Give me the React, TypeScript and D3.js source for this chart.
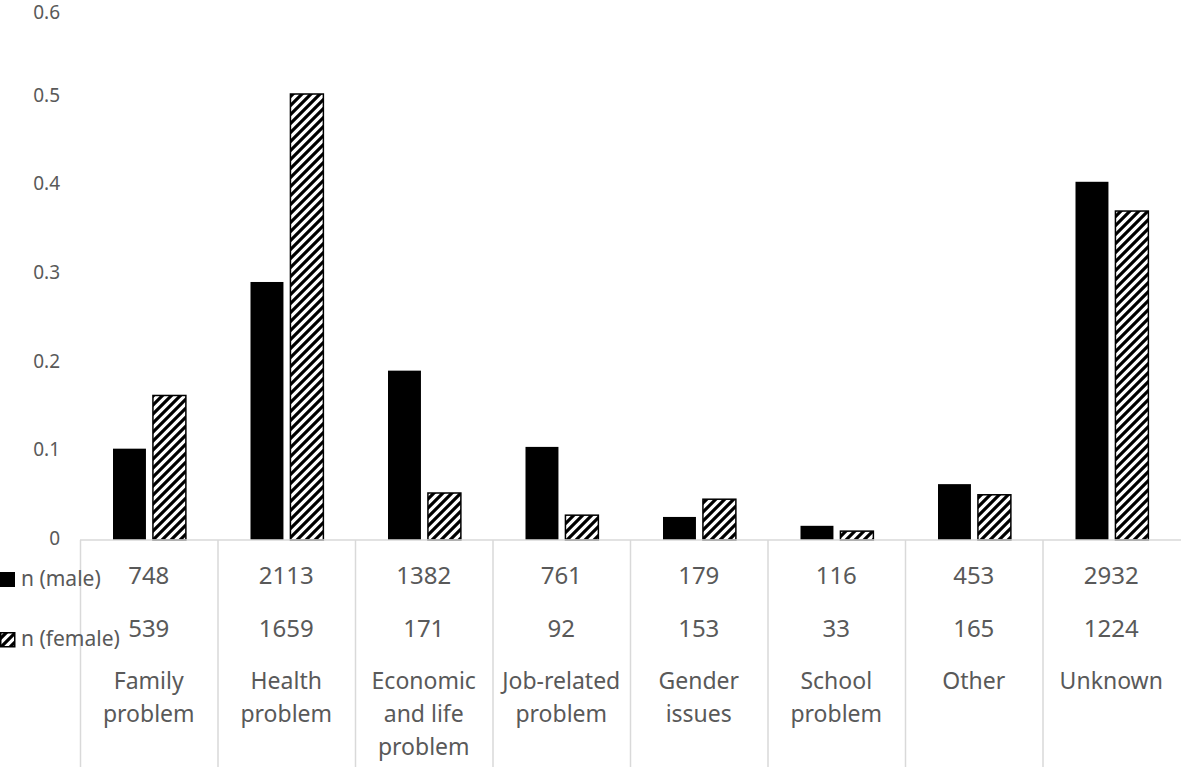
import * as d3 from "d3";

// Data
const categories = [
  ["Family", "problem"],
  ["Health", "problem"],
  ["Economic", "and life", "problem"],
  ["Job-related", "problem"],
  ["Gender", "issues"],
  ["School", "problem"],
  ["Other"],
  ["Unknown"],
];
const maleShare = [0.103, 0.291, 0.191, 0.105, 0.026, 0.016, 0.063, 0.404];
const femaleShare = [0.163, 0.503, 0.053, 0.028, 0.046, 0.01, 0.051, 0.371];
const maleN = [748, 2113, 1382, 761, 179, 116, 453, 2932];
const femaleN = [539, 1659, 171, 92, 153, 33, 165, 1224];
const yTicks = [0, 0.1, 0.2, 0.3, 0.4, 0.5, 0.6];
const seriesKeys = ["male", "female"];

const W = 1181;
const H = 767;
const font = "'Noto Sans', 'Open Sans', sans-serif";
const textColor = "#595959";
const lineColor = "#d9d9d9";

const App = () => {
  const x = d3
    .scaleBand<number>()
    .domain(d3.range(categories.length))
    .range([80, 1180])
    .padding(0);
  const step = x.bandwidth();
  // inner band for the two bars in each category
  const x1 = d3
    .scaleBand<string>()
    .domain(seriesKeys)
    .range([step * 0.24, step * 0.77])
    .paddingInner(0.175)
    .paddingOuter(0);
  const y = d3.scaleLinear().domain([0, 0.6]).range([540, 8]);

  const rowMale = 578;
  const rowFemale = 631;
  const labelTop = 683;
  const labelGap = 33;

  return (
    <div style={{ position: "absolute", left: 0, top: 0 }}>
      <svg width={W} height={H} style={{ display: "block", background: "#fff" }}>
        <defs>
          <pattern id="hatch" patternUnits="userSpaceOnUse" width="9" height="9">
            <rect width="9" height="9" fill="#fff" />
            <path
              d="M-2,2 L2,-2 M0,9 L9,0 M7,11 L11,7"
              stroke="#000"
              strokeWidth="3.2"
            />
          </pattern>
        </defs>

        {/* y axis labels (top one kept inside the frame) */}
        {yTicks.map(t => (
          <text
            key={t}
            x={60}
            y={Math.max(y(t), 14)}
            textAnchor="end"
            dominantBaseline="middle"
            fontFamily={font}
            fontSize={19}
            fill={textColor}
          >
            {t === 0 ? "0" : t.toFixed(1)}
          </text>
        ))}

        {/* bars */}
        {categories.map((_, i) => {
          const x0 = x(i) ?? 0;
          return (
            <g key={i}>
              <rect
                x={x0 + (x1("male") ?? 0)}
                y={y(maleShare[i])}
                width={x1.bandwidth()}
                height={y(0) - y(maleShare[i])}
                fill="#000"
              />
              <rect
                x={x0 + (x1("female") ?? 0)}
                y={y(femaleShare[i])}
                width={x1.bandwidth()}
                height={y(0) - y(femaleShare[i])}
                fill="url(#hatch)"
                stroke="#000"
                strokeWidth={1.5}
              />
            </g>
          );
        })}

        {/* axis line + data table grid */}
        <line x1={80} x2={1181} y1={y(0)} y2={y(0)} stroke={lineColor} strokeWidth={1.5} />
        {d3.range(categories.length).map(i => (
          <line
            key={i}
            x1={(x(i) ?? 0) + 0.5}
            x2={(x(i) ?? 0) + 0.5}
            y1={y(0)}
            y2={H}
            stroke={lineColor}
            strokeWidth={1.5}
          />
        ))}

        {/* data table values and category labels */}
        {categories.map((lines, i) => {
          const cx = (x(i) ?? 0) + step / 2;
          return (
            <g key={i} fontFamily={font} fill={textColor} textAnchor="middle">
              <text x={cx} y={rowMale} dominantBaseline="middle" fontSize={24}>
                {maleN[i]}
              </text>
              <text x={cx} y={rowFemale} dominantBaseline="middle" fontSize={24}>
                {femaleN[i]}
              </text>
              {lines.map((l, j) => (
                <text
                  key={j}
                  x={cx}
                  y={labelTop + j * labelGap}
                  dominantBaseline="middle"
                  fontSize={23}
                >
                  {l}
                </text>
              ))}
            </g>
          );
        })}

        {/* legend keys in the data table */}
        <rect x={0} y={572} width={15} height={15} fill="#000" />
        <text x={21} y={580} dominantBaseline="middle" fontFamily={font} fontSize={21} fill={textColor}>
          n (male)
        </text>
        <rect x={0.75} y={632.75} width={14} height={14} fill="url(#hatch)" stroke="#000" strokeWidth={1.5} />
        <text x={21} y={640} dominantBaseline="middle" fontFamily={font} fontSize={21} fill={textColor}>
          n (female)
        </text>
      </svg>
    </div>
  );
};

export default App;
